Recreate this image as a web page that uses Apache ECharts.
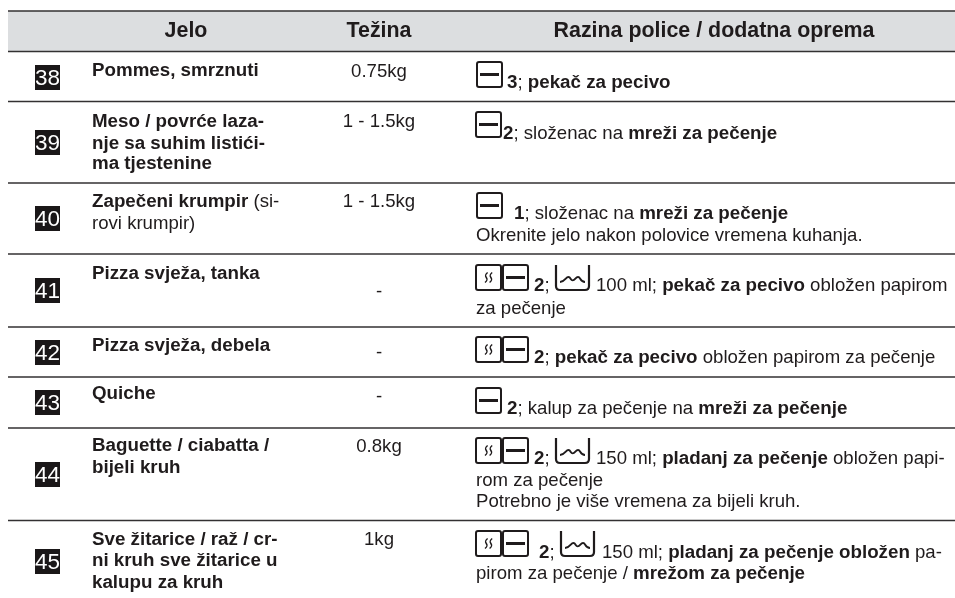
<!DOCTYPE html>
<html>
<head>
<meta charset="utf-8">
<title>Jelo</title>
<script src="https://cdn.jsdelivr.net/npm/echarts@6/dist/echarts.min.js"></script>
<style>
  html, body { margin: 0; padding: 0; background: #fff; }
  #chart { width: 955px; height: 598px; }
</style>
</head>
<body>
<div id="chart"></div>
<script>
// podaci tablice
const headers = ['Jelo', 'Težina', 'Razina police / dodatna oprema'];
const rowNumbers = ['38', '39', '40', '41', '42', '43', '44', '45'];
const dishes = [
  ['{b|Pommes, smrznuti}'],
  ['{b|Meso / povrće laza-}', '{b|nje sa suhim listići-}', '{b|ma tjestenine}'],
  ['{b|Zapečeni krumpir} (si-', 'rovi krumpir)'],
  ['{b|Pizza svježa, tanka}'],
  ['{b|Pizza svježa, debela}'],
  ['{b|Quiche}'],
  ['{b|Baguette / ciabatta /}', '{b|bijeli kruh}'],
  ['{b|Sve žitarice / raž / cr-}', '{b|ni kruh sve žitarice u}', '{b|kalupu za kruh}']
];
const weights = ['0.75kg', '1 - 1.5kg', '1 - 1.5kg', '-', '-', '-', '0.8kg', '1kg'];
const shelfText = [
  ['{b|3}; {b|pekač za pecivo}'],
  ['{b|2}; složenac na {b|mreži za pečenje}'],
  ['{b|1}; složenac na {b|mreži za pečenje}', 'Okrenite jelo nakon polovice vremena kuhanja.'],
  ['{b|2};', '100 ml; {b|pekač za pecivo} obložen papirom', 'za pečenje'],
  ['{b|2}; {b|pekač za pecivo} obložen papirom za pečenje'],
  ['{b|2}; kalup za pečenje na {b|mreži za pečenje}'],
  ['{b|2};', '150 ml; {b|pladanj za pečenje} obložen papi-', 'rom za pečenje', 'Potrebno je više vremena za bijeli kruh.'],
  ['{b|2};', '150 ml; {b|pladanj za pečenje obložen} pa-', 'pirom za pečenje / {b|mrežom za pečenje}']
];

// raspored (pikseli slike)
const ruleY = [11, 51.5, 101.5, 183, 254, 327, 377, 428, 520.5];
const badgeTop = [65, 130, 206, 278, 340, 390, 462, 549];
const dishY = [[70], [121, 142.5, 163], [201, 222.5], [273], [345], [393], [445, 467], [539, 560, 582]];
const weightY = [71, 121, 201, 291, 352, 396, 446, 539];
const shelfX = [[507], [503], [514, 476], [534, 596, 476], [534], [507], [534, 596, 476, 476], [539, 602, 476]];
const shelfY = [[82], [133], [213, 235], [285, 285, 308], [357], [408], [458, 458, 480, 501], [552, 552, 573]];
const heatIcons = [[], [], [], [476, 265], [476, 337], [], [476, 438], [476, 531]];
const shelfIcons = [[477, 62], [476, 112], [477, 193], [503, 265], [503, 337], [476, 388], [503, 438], [503, 531]];
const waterIcons = [[], [], [], [556, 265], [], [], [556, 438], [561, 531]];

const FONT = '"Liberation Sans", Arial, sans-serif';
const INK = '#1f1b1c';
const BODY_SIZE = 18.6;
const HEAD_SIZE = 21.4;
const TEXT_DY = 1;
const rich = { b: { fontWeight: 'bold', fontSize: 18.75, fontFamily: FONT, fill: INK } };
const headRich = { h: { fontWeight: 'bold', fontSize: HEAD_SIZE, fontFamily: FONT, fill: INK } };

const chart = echarts.init(document.getElementById('chart'));

function textEl(api, x, y, text, size, align, extra) {
  const p = api.coord([x, y + TEXT_DY]);
  return {
    type: 'text',
    style: Object.assign({
      x: p[0], y: p[1], text, rich,
      fontFamily: FONT, fontSize: size, fill: INK,
      align, verticalAlign: 'middle'
    }, extra || {})
  };
}

function boxEl(api, x, y, w, h) {
  const p = api.coord([x, y]);
  return {
    type: 'rect',
    shape: { x: p[0], y: p[1], width: w, height: h, r: 2 },
    style: { fill: 'none', stroke: INK, lineWidth: 2 }
  };
}

function shelfIcon(api, x, y) {
  const p = api.coord([x, y + 12.5]);
  return [
    boxEl(api, x, y, 25, 25),
    { type: 'rect', shape: { x: p[0] + 3, y: p[1] - 1.5, width: 19, height: 3 }, style: { fill: INK } }
  ];
}

function heatIcon(api, x, y) {
  const p = api.coord([x + 9, y + 7.5]);
  const s = 'M3 0 C0 2 0 3 1.5 5 C3 7 3 8 0 10';
  const waves = [0, 4.6].map(dx => ({
    type: 'path',
    shape: { pathData: s, x: p[0] + dx, y: p[1], width: 2.6, height: 10, layout: 'cover' },
    style: { fill: 'none', stroke: INK, lineWidth: 1.5 }
  }));
  return [boxEl(api, x, y, 25, 25)].concat(waves);
}

function waterIcon(api, x, y) {
  const p = api.coord([x, y]);
  return [
    {
      type: 'path',
      shape: { pathData: 'M0 0 L0 21 Q0 25 4 25 L29 25 Q33 25 33 21 L33 0', x: p[0], y: p[1], width: 33, height: 25, layout: 'cover' },
      style: { fill: 'none', stroke: INK, lineWidth: 2.2 }
    },
    {
      type: 'path',
      shape: { pathData: 'M0 6 Q3 6 6 3 Q9 0 11 3 Q13 6 16 3 Q19 0 21 3 Q23 6 26 6', x: p[0] + 4, y: p[1] + 12, width: 25, height: 5, layout: 'cover' },
      style: { fill: 'none', stroke: INK, lineWidth: 1.9 }
    }
  ];
}

function renderFrame(params, api) {
  const tl = api.coord([8, 11]);
  const br = api.coord([955, 51.5]);
  const children = [{
    type: 'rect',
    shape: { x: tl[0], y: tl[1], width: br[0] - tl[0], height: br[1] - tl[1] },
    style: { fill: '#dcdee0' }
  }];
  ruleY.forEach(y => {
    const a = api.coord([8, y]);
    const b = api.coord([955, y]);
    children.push({
      type: 'line',
      shape: { x1: a[0], y1: a[1], x2: b[0], y2: b[1] },
      style: { stroke: '#333132', lineWidth: 1.7 }
    });
  });
  [186, 379, 714].forEach((x, k) => {
    children.push(textEl(api, x, 30, '{h|' + headers[k] + '}', HEAD_SIZE, 'center', { rich: headRich }));
  });
  return { type: 'group', children };
}

function renderRow(params, api) {
  const i = api.value(0);
  const children = [];

  // broj programa
  const top = api.coord([35, badgeTop[i]]);
  children.push({ type: 'rect', shape: { x: top[0], y: top[1], width: 25, height: 25 }, style: { fill: '#1a1718' } });
  children.push(textEl(api, 47.5, badgeTop[i] + 12.5, rowNumbers[i], 22.5, 'center', { fill: '#fff' }));

  dishes[i].forEach((line, k) => children.push(textEl(api, 92, dishY[i][k], line, BODY_SIZE, 'left')));
  children.push(textEl(api, 379, weightY[i], weights[i], BODY_SIZE, 'center'));
  shelfText[i].forEach((line, k) => children.push(textEl(api, shelfX[i][k], shelfY[i][k], line, BODY_SIZE, 'left')));

  if (heatIcons[i].length) children.push(...heatIcon(api, heatIcons[i][0], heatIcons[i][1]));
  children.push(...shelfIcon(api, shelfIcons[i][0], shelfIcons[i][1]));
  if (waterIcons[i].length) children.push(...waterIcon(api, waterIcons[i][0], waterIcons[i][1]));

  return { type: 'group', children };
}

chart.setOption({
  animation: false,
  grid: { left: 0, right: 0, top: 0, bottom: 0 },
  xAxis: { type: 'value', min: 0, max: 955, show: false },
  yAxis: { type: 'value', min: 0, max: 598, inverse: true, show: false },
  series: [
    { type: 'custom', name: 'frame', coordinateSystem: 'cartesian2d', silent: true, clip: false, data: [[0]], renderItem: renderFrame },
    { type: 'custom', name: 'rows', coordinateSystem: 'cartesian2d', silent: true, clip: false, data: rowNumbers.map((_, i) => [i]), encode: { x: 0, y: 0 }, renderItem: renderRow }
  ]
});
</script>
</body>
</html>
